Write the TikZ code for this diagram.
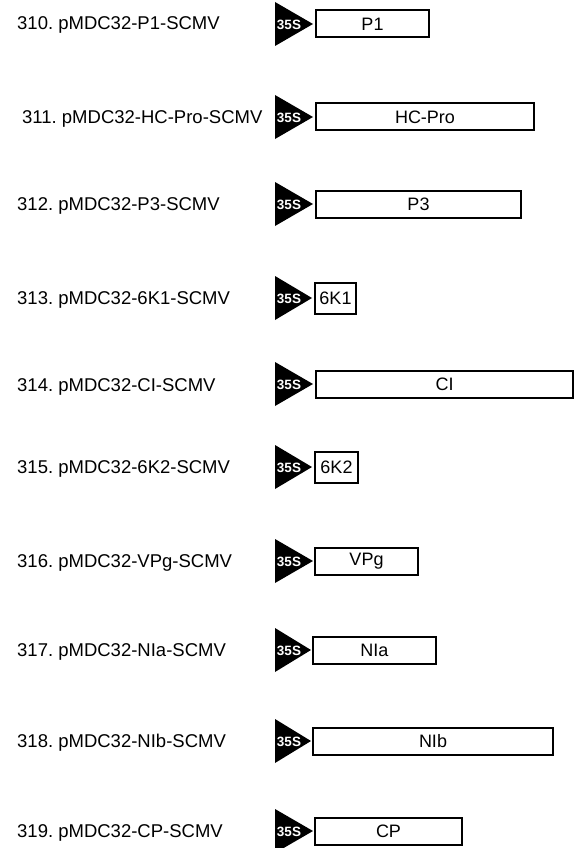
\documentclass[tikz,border=0pt]{standalone}
\usepackage{fontspec}
\setmainfont{Liberation Sans}
\usepackage{tikz}
\usetikzlibrary{positioning}
\frenchspacing

\begin{document}
\begin{tikzpicture}[x=1pt,y=-1pt,
    lbl/.style={anchor=west,inner sep=0pt,font=\fontsize{18.5}{20}\selectfont},
    gene/.style={draw,line width=2pt,fill=white,anchor=west,inner sep=0pt,
      minimum height=27pt,font=\fontsize{18}{20}\selectfont},
    promtxt/.style={text=white,inner sep=0pt,font=\bfseries\fontsize{13.5}{14}\selectfont}]
  \useasboundingbox (0,0) rectangle (575,848);

  % 310
  \node[lbl] (l310) at (17,25) {310. pMDC32-P1-SCMV};
  \fill (275,2) -- (275,46) -- (313,24) -- cycle;
  \node[promtxt] (s310) at (289,25) {35S};
  \node[gene, minimum width=113pt] (p1) at (315,24) {P1};

  % 311
  \node[lbl] (l311) at (22,119) {311. pMDC32-HC-Pro-SCMV};
  \fill (275,95) -- (275,139) -- (313,117) -- cycle;
  \node[promtxt] (s311) at (289,118) {35S};
  \node[gene, minimum width=218pt] (hcpro) at (315,117) {HC-Pro};

  % 312
  \node[lbl] (l312) at (17,206) {312. pMDC32-P3-SCMV};
  \fill (275,182) -- (275,226) -- (313,204) -- cycle;
  \node[promtxt] (s312) at (289,205) {35S};
  \node[gene, minimum width=205pt] (p3) at (315,204) {P3};

  % 313
  \node[lbl] (l313) at (17,300) {313. pMDC32-6K1-SCMV};
  \fill (275,276) -- (275,320) -- (312,298) -- cycle;
  \node[promtxt] (s313) at (289,299) {35S};
  \node[gene, minimum width=41pt, minimum height=31pt] (sixk1) at (314,298) {6K1};

  % 314
  \node[lbl] (l314) at (17,387) {314. pMDC32-CI-SCMV};
  \fill (275,362) -- (275,406) -- (313,384) -- cycle;
  \node[promtxt] (s314) at (289,385) {35S};
  \node[gene, minimum width=257pt] (ci) at (315,384) {CI};

  % 315
  \node[lbl] (l315) at (17,469) {315. pMDC32-6K2-SCMV};
  \fill (275,445) -- (275,489) -- (312,467) -- cycle;
  \node[promtxt] (s315) at (289,468) {35S};
  \node[gene, minimum width=43pt, minimum height=31pt] (sixk2) at (314,467) {6K2};

  % 316
  \node[lbl] (l316) at (17,563) {316. pMDC32-VPg-SCMV};
  \fill (275,539) -- (275,583) -- (313,561) -- cycle;
  \node[promtxt] (s316) at (289,562) {35S};
  \node[gene, minimum width=103pt] (vpg) at (314,561) {VPg};

  % 317
  \node[lbl] (l317) at (17,652) {317. pMDC32-NIa-SCMV};
  \fill (275,628) -- (275,672) -- (311,650) -- cycle;
  \node[promtxt] (s317) at (289,651) {35S};
  \node[gene, minimum width=123pt] (nia) at (312,650) {NIa};

  % 318
  \node[lbl] (l318) at (17,743) {318. pMDC32-NIb-SCMV};
  \fill (275,719) -- (275,763) -- (311,741) -- cycle;
  \node[promtxt] (s318) at (289,742) {35S};
  \node[gene, minimum width=240pt] (nib) at (312,741) {NIb};

  % 319
  \node[lbl] (l319) at (17,833) {319. pMDC32-CP-SCMV};
  \fill (275,809) -- (275,853) -- (313,831) -- cycle;
  \node[promtxt] (s319) at (289,832) {35S};
  \node[gene, minimum width=147pt] (cp) at (314,831) {CP};
\end{tikzpicture}
\end{document}
